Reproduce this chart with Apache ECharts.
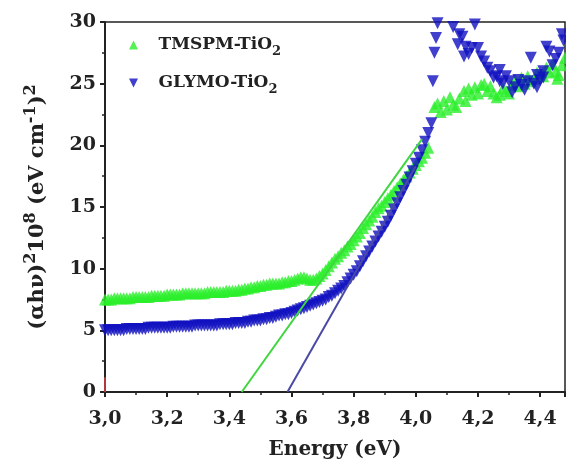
<!DOCTYPE html>
<html>
<head>
<meta charset="utf-8">
<script src="https://cdn.jsdelivr.net/npm/echarts@6/dist/echarts.min.js"></script>
<style>
  html, body { margin: 0; padding: 0; background: #fff; }
  #chart { width: 566px; height: 465px; }
</style>
</head>
<body>
<div id="chart"></div>
<script>
// photon energy (eV) for the smooth low-energy part
const energy = [
  3.00, 3.01, 3.02, 3.03, 3.04, 3.05, 3.06, 3.07, 3.08, 3.09,
  3.10, 3.11, 3.12, 3.13, 3.14, 3.15, 3.16, 3.17, 3.18, 3.19,
  3.20, 3.21, 3.22, 3.23, 3.24, 3.25, 3.26, 3.27, 3.28, 3.29,
  3.30, 3.31, 3.32, 3.33, 3.34, 3.35, 3.36, 3.37, 3.38, 3.39,
  3.40, 3.41, 3.42, 3.43, 3.44, 3.45, 3.46, 3.47, 3.48, 3.49,
  3.50, 3.51, 3.52, 3.53, 3.54, 3.55, 3.56, 3.57, 3.58, 3.59,
  3.60, 3.61, 3.62, 3.63, 3.64, 3.65, 3.66, 3.67, 3.68, 3.69,
  3.70, 3.71, 3.72, 3.73, 3.74, 3.75, 3.76, 3.77, 3.78, 3.79,
  3.80, 3.81, 3.82, 3.83, 3.84, 3.85, 3.86, 3.87, 3.88, 3.89,
  3.90, 3.91, 3.92, 3.93, 3.94, 3.95, 3.96, 3.97, 3.98, 3.99,
  4.00, 4.01, 4.02, 4.03, 4.04
]
const tmspm = [
  7.5, 7.5, 7.5, 7.6, 7.6, 7.6, 7.6, 7.6, 7.6, 7.7,
  7.7, 7.7, 7.7, 7.7, 7.7, 7.8, 7.8, 7.8, 7.8, 7.8,
  7.9, 7.9, 7.9, 7.9, 7.9, 8.0, 8.0, 8.0, 8.0, 8.0,
  8.0, 8.0, 8.0, 8.1, 8.1, 8.1, 8.1, 8.1, 8.1, 8.2,
  8.2, 8.2, 8.2, 8.3, 8.3, 8.4, 8.4, 8.5, 8.5, 8.6,
  8.6, 8.7, 8.7, 8.8, 8.8, 8.8, 8.8, 8.9, 8.9, 9.0,
  9.0, 9.1, 9.2, 9.3, 9.3, 9.2, 9.1, 9.1, 9.2, 9.4,
  9.6, 9.9, 10.2, 10.5, 10.8, 11.0, 11.3, 11.5, 11.8, 12.0,
  12.3, 12.6, 12.9, 13.3, 13.6, 13.9, 14.2, 14.6, 14.9, 15.1,
  15.4, 15.7, 16.0, 16.3, 16.6, 16.9, 17.2, 17.5, 17.8, 18.1,
  18.4, 18.7, 19.0, 19.4, 19.8
]
const glymo = [
  5.0, 5.0, 5.0, 5.0, 5.0, 5.0, 5.0, 5.1, 5.1, 5.1,
  5.1, 5.1, 5.1, 5.1, 5.2, 5.2, 5.2, 5.2, 5.2, 5.2,
  5.2, 5.2, 5.3, 5.3, 5.3, 5.3, 5.3, 5.3, 5.3, 5.4,
  5.4, 5.4, 5.4, 5.4, 5.4, 5.4, 5.4, 5.5, 5.5, 5.5,
  5.5, 5.5, 5.6, 5.6, 5.6, 5.6, 5.7, 5.7, 5.8, 5.8,
  5.8, 5.9, 5.9, 6.0, 6.0, 6.1, 6.2, 6.2, 6.3, 6.3,
  6.4, 6.5, 6.6, 6.7, 6.8, 6.9, 7.0, 7.1, 7.2, 7.3,
  7.4, 7.5, 7.7, 7.8, 8.0, 8.2, 8.4, 8.6, 8.9, 9.2,
  9.5, 9.8, 10.2, 10.6, 11.0, 11.4, 11.8, 12.2, 12.6, 13.0,
  13.4, 13.8, 14.3, 14.8, 15.3, 15.8, 16.3, 16.8, 17.4, 17.9,
  18.5, 19.0, 19.6, 20.3, 21.0
]
// noisy part above the edge, [energy, value]
const tmspmHigh = [
  [4.06, 23.1], [4.07, 23.4], [4.08, 22.7], [4.09, 23.6], [4.10, 22.9],
  [4.11, 23.9], [4.12, 23.3], [4.13, 23.1], [4.14, 23.8], [4.155, 24.4],
  [4.16, 23.6], [4.17, 24.6], [4.18, 24.1], [4.19, 24.7], [4.20, 24.2],
  [4.21, 24.9], [4.22, 25.0], [4.23, 24.4], [4.24, 24.8], [4.25, 24.2],
  [4.26, 23.9], [4.27, 24.1], [4.28, 24.6], [4.29, 24.4], [4.30, 24.2],
  [4.31, 24.9], [4.32, 25.3], [4.33, 24.8], [4.34, 25.5], [4.35, 25.0],
  [4.36, 25.6], [4.37, 25.2], [4.38, 25.4], [4.39, 25.9], [4.40, 25.7],
  [4.41, 25.6], [4.42, 26.3], [4.43, 25.9], [4.44, 26.6], [4.45, 26.0],
  [4.455, 25.4], [4.46, 25.7], [4.47, 26.5], [4.48, 27.1]
]
const glymoHigh = [
  [4.05, 21.8], [4.055, 25.2], [4.06, 27.5], [4.065, 28.7], [4.07, 29.9],
  [4.12, 29.6], [4.135, 28.2], [4.14, 29.0], [4.15, 28.8], [4.155, 27.2],
  [4.16, 28.0], [4.17, 27.4], [4.18, 27.9], [4.19, 29.8], [4.20, 27.9],
  [4.21, 27.2], [4.22, 26.8], [4.23, 26.3], [4.24, 26.0], [4.25, 25.5],
  [4.26, 25.6], [4.27, 26.1], [4.27, 25.2], [4.28, 25.0], [4.29, 25.6],
  [4.30, 25.2], [4.31, 24.3], [4.32, 24.7], [4.33, 25.3], [4.34, 24.9],
  [4.35, 24.5], [4.36, 25.2], [4.37, 27.1], [4.38, 25.0], [4.39, 25.7],
  [4.39, 24.7], [4.40, 25.3], [4.41, 26.0], [4.41, 25.5], [4.42, 28.0],
  [4.43, 27.6], [4.44, 26.5], [4.45, 27.0], [4.46, 27.5], [4.47, 29.0],
  [4.475, 28.5]
]
// Tauc fit lines
const tmspmFit = [[3.44, 0], [4.02, 20.5]]
const glymoFit = [[3.587, 0], [4.0, 18.3]]
const originMark = [[3.0, 0], [3.0, 1.2]]

const FONT = 'DejaVu Serif'
const GREEN = '#2bef2b'
const BLUE = '#1010c0'
const UP = 'path://M5,0 L10,10 L0,10 Z'
const DOWN = 'path://M0,0 L10,0 L5,10 Z'

const pairs = (xs, ys) => xs.map((x, i) => [x, ys[i]])
const fmt = v => v.toFixed(1).replace('.', ',')

const chart = echarts.init(document.getElementById('chart'))
chart.setOption({
  animation: false,
  backgroundColor: '#fff',
  textStyle: { fontFamily: FONT, color: '#111' },
  grid: {
    left: 105, top: 22, width: 460, height: 373,
    show: true, borderColor: '#222', borderWidth: 1.5
  },
  legend: {
    orient: 'vertical',
    left: 124, top: 27,
    itemWidth: 40, itemHeight: 9, itemGap: 12,
    data: ['TMSPM-TiO2', 'GLYMO-TiO2'],
    formatter: n => n.replace('TiO2', 'TiO{sub|2}'),
    textStyle: {
      fontFamily: FONT, fontWeight: 'bold', fontSize: 17, color: '#222', lineHeight: 26,
      rich: { sub: { fontFamily: FONT, fontWeight: 'bold', fontSize: 13, color: '#222', verticalAlign: 'bottom', lineHeight: 14 } }
    }
  },
  xAxis: {
    type: 'value', min: 3.0, max: 4.48, interval: 0.2,
    name: 'Energy (eV)', nameLocation: 'middle', nameGap: 48,
    nameTextStyle: { fontFamily: FONT, fontWeight: 'bold', fontSize: 20, color: '#222' },
    axisLine: { lineStyle: { color: '#222', width: 2 } },
    axisTick: { length: 5, lineStyle: { color: '#222', width: 2 } },
    minorTick: { show: true, splitNumber: 2, length: 3, lineStyle: { color: '#222', width: 1.5 } },
    splitLine: { show: false },
    axisLabel: { formatter: fmt, showMaxLabel: false, margin: 18, fontFamily: FONT, fontWeight: 'bold', fontSize: 19, color: '#222' }
  },
  yAxis: {
    type: 'value', min: 0, max: 30, interval: 5,
    name: '(\u03b1h\u03bd){sup|2}10{sup|8} (eV cm{sup|-1}){sup|2}',
    nameLocation: 'middle', nameGap: 52,
    nameTextStyle: {
      fontFamily: FONT, fontWeight: 'bold', fontSize: 21, color: '#222', lineHeight: 30,
      rich: { sup: { fontFamily: FONT, fontWeight: 'bold', fontSize: 16, color: '#222', verticalAlign: 'top', lineHeight: 15 } }
    },
    axisLine: { lineStyle: { color: '#222', width: 2 } },
    axisTick: { length: 5, lineStyle: { color: '#222', width: 2 } },
    minorTick: { show: true, splitNumber: 2, length: 3, lineStyle: { color: '#222', width: 1.5 } },
    splitLine: { show: false },
    axisLabel: { margin: 9, fontFamily: FONT, fontWeight: 'bold', fontSize: 19, color: '#222' }
  },
  series: [
    {
      name: 'TMSPM-TiO2', type: 'scatter', symbol: UP, symbolSize: 12,
      itemStyle: { color: GREEN },
      data: pairs(energy, tmspm).concat(tmspmHigh)
    },
    {
      name: 'GLYMO-TiO2', type: 'scatter', symbol: DOWN, symbolSize: 12,
      itemStyle: { color: BLUE },
      data: pairs(energy, glymo).concat(glymoHigh)
    },
    {
      type: 'line', data: tmspmFit, showSymbol: false, symbol: 'none', z: 5,
      lineStyle: { color: '#3fd63f', width: 2 }
    },
    {
      type: 'line', data: glymoFit, showSymbol: false, symbol: 'none', z: 5,
      lineStyle: { color: '#4a4aa6', width: 2 }
    },
    {
      type: 'line', data: originMark, showSymbol: false, symbol: 'none', z: 5,
      lineStyle: { color: '#e04040', width: 1.5 }
    }
  ]
})
</script>
</body>
</html>
